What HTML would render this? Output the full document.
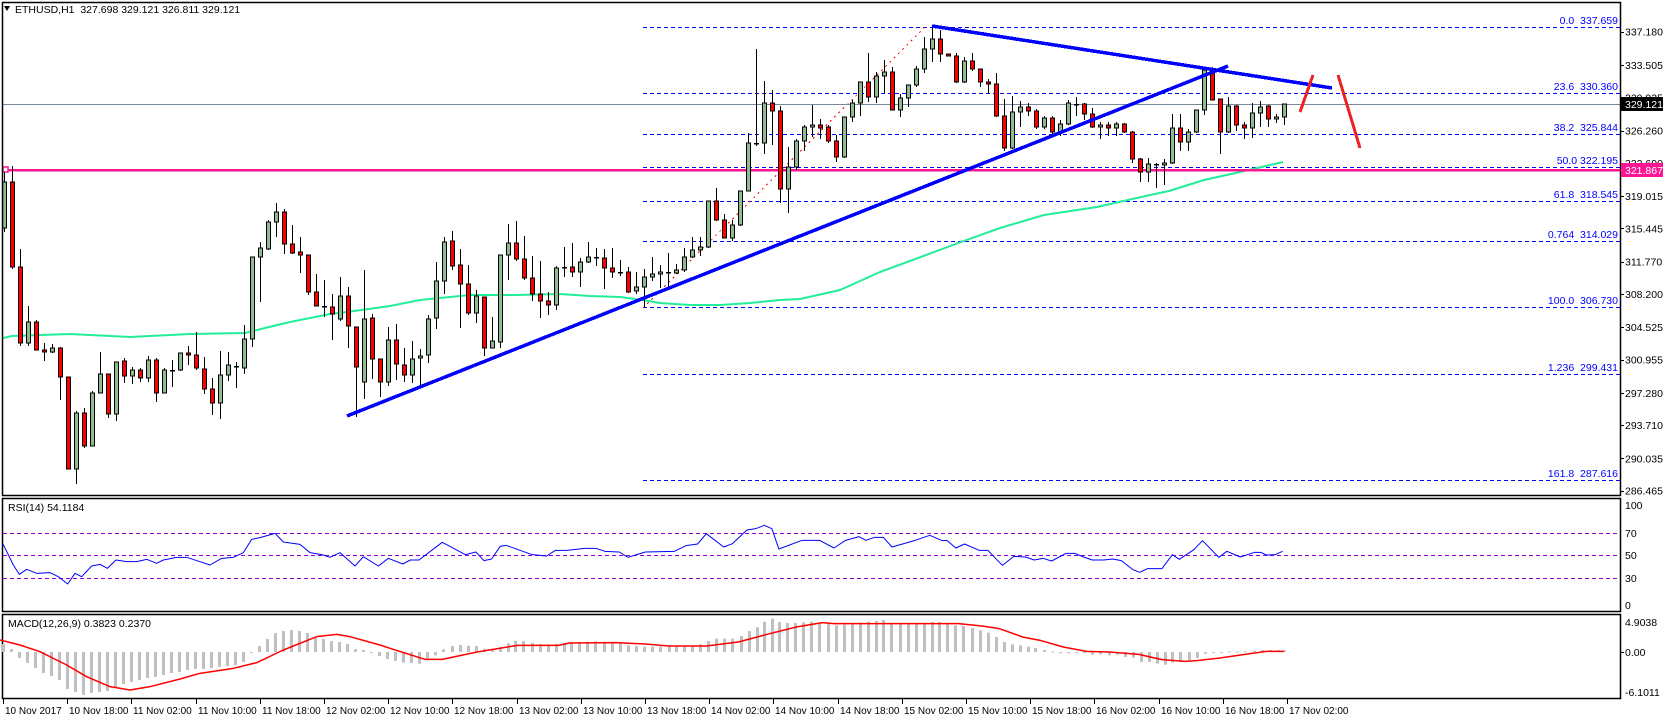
<!DOCTYPE html>
<html><head><meta charset="utf-8">
<style>
html,body{margin:0;padding:0;background:#fff;}
svg{display:block;font-family:"Liberation Sans",sans-serif;}
</style></head>
<body>
<svg id="s" width="1663" height="720" xmlns="http://www.w3.org/2000/svg"></svg>
<script>
var S=document.getElementById('s');var out=[];
function L(x1,y1,x2,y2,c,w,d){out.push('<line x1="'+x1+'" y1="'+y1+'" x2="'+x2+'" y2="'+y2+'" stroke="'+c+'" stroke-width="'+(w||1)+'"'+(d?' stroke-dasharray="'+d+'"':'')+' shape-rendering="crispEdges"/>');}
function T(x,y,t,c,a,sz){out.push('<text x="'+x+'" y="'+y+'" fill="'+(c||'#000')+'" font-size="'+(sz||10.5)+'"'+(a?' text-anchor="'+a+'"':'')+'>'+t+'</text>');}
function P(pts,c,w){out.push('<polyline points="'+pts.map(function(p){return p[0]+','+p[1]}).join(' ')+'" fill="none" stroke="'+c+'" stroke-width="'+w+'" stroke-linejoin="round"/>');}
var R=1620;
var fib=[[27,'0.0  337.659'],[93,'23.6  330.360'],[134,'38.2  325.844'],[167,'50.0 322.195'],[201,'61.8  318.545'],[241,'0.764  314.029'],[307,'100.0  306.730'],[374,'1.236  299.431'],[480,'161.8  287.616']];
fib.forEach(function(f){L(643,f[0]+.5,R,f[0]+.5,'#0000ff',1,'4,3');T(1618,f[0]-3,f[1].replace(/ /g,'&#160;'),'#0000ff','end',10.5);});
L(643,308,925,27,'#ff0000',1,'2,4');
P([[3,338],[12,336],[70,334],[130,337],[190,334],[245,333],[265,328],[290,322],[330,314],[347,312],[390,306],[420,300],[450,297],[470,295],[515,295],[560,294],[590,296],[620,297],[643,300],[660,303],[690,305],[720,305],[750,303],[780,300],[800,299],[840,290],[880,272],[918,258],[961,242],[1000,228],[1044,215],[1097,207],[1150,195],[1169,191],[1204,180],[1240,172],[1283,162]],'#22ee99',2);
L(2,104.5,R,104.5,'#778899',1);
L(2,170,R,170,'#ff1493',2.5);
out.push('<rect x="3" y="167" width="5" height="5" fill="#fff" stroke="#ff1493" stroke-width="1.5"/>');
var C=[[228,182,172,232],[182,267,166,269],[267,343,249,346],[343,322,306,346],[322,350,320,350],[350,352,343,361],[352,348,344,353],[348,377,347,400],[377,469,377,469],[469,413,411,484],[413,446,408,448],[446,393,391,446],[393,374,352,393],[374,414,374,418],[414,362,362,421],[361,376,358,383],[376,370,367,384],[370,378,368,382],[378,360,356,382],[360,393,358,402],[393,370,368,393],[370,370,360,387],[370,353,353,371],[353,355,346,365],[355,368,332,370],[369,389,357,394],[389,403,378,415],[403,375,351,419],[375,365,352,381],[366,366,362,388],[368,339,325,374],[339,257,257,347],[257,248,242,302],[249,222,220,250],[222,212,203,237],[212,244,209,254],[244,253,225,254],[252,255,237,273],[255,292,255,295],[292,306,274,306],[306,306,280,317],[307,314,294,340],[319,296,277,321],[296,326,287,348],[327,367,327,417],[382,319,270,399],[318,359,314,379],[359,382,359,397],[382,340,327,386],[340,364,324,380],[365,375,348,382],[375,359,341,383],[358,356,349,386],[355,319,315,363],[318,281,262,329],[281,242,237,294],[241,266,231,270],[265,284,249,328],[284,313,265,315],[313,296,290,323],[297,348,297,356],[348,341,317,348],[342,255,255,348],[255,243,224,280],[243,259,221,261],[259,278,236,280],[278,294,256,301],[294,301,261,318],[301,305,292,315],[305,268,266,310],[267,267,247,277],[267,272,243,277],[272,262,258,287],[262,257,242,263],[257,257,248,266],[258,268,249,289],[268,272,248,278],[272,272,260,276],[272,292,267,293],[291,287,272,294],[287,277,269,307],[277,274,257,281],[274,272,265,288],[272,272,253,288],[273,270,264,274],[270,257,248,272],[257,250,237,258],[250,247,237,256],[247,201,201,248],[201,220,188,221],[220,238,214,238],[238,225,220,241],[225,191,191,226],[191,143,133,191],[143,143,49,146],[143,103,81,154],[103,111,90,145],[111,189,106,203],[189,167,147,213],[167,141,139,170],[141,127,125,151],[127,125,105,137],[125,128,119,139],[127,141,125,143],[141,157,135,162],[157,117,117,158],[117,103,100,122],[103,82,82,116],[82,97,53,102],[97,76,72,103],[76,72,60,93],[72,110,67,110],[110,98,94,117],[98,85,85,107],[85,69,66,87],[69,49,37,73],[49,39,26,62],[39,54,30,62],[54,56,54,56],[56,82,53,83],[82,61,57,83],[61,69,53,71],[69,82,69,87],[82,84,79,94],[84,116,73,117],[116,148,99,151],[148,112,96,149],[112,107,101,127],[107,111,103,116],[111,127,109,129],[127,118,116,129],[118,132,116,134],[132,124,120,136],[124,103,100,125],[104,104,97,116],[104,114,103,120],[114,127,108,128],[127,125,122,139],[125,128,122,136],[128,124,122,136],[124,132,123,133],[132,159,131,163],[159,172,158,182],[172,164,158,182],[164,164,163,188],[165,163,159,185],[163,128,114,164],[128,142,114,151],[142,132,129,151],[132,110,110,133],[110,70,68,115],[70,100,67,100],[99,132,99,154],[132,106,97,133],[106,125,105,131],[125,128,122,139],[128,113,103,138],[113,107,101,127],[106,119,105,127],[119,117,114,123],[117,104,104,125]];
C.forEach(function(c,i){var x=4+8*i;L(x+.5,c[2],x+.5,c[3],'#000',1);
 var t=Math.min(c[0],c[1]),b=Math.max(c[0],c[1]);
 if(b-t<1.5){L(x-2,t+.5,x+3,t+.5,'#000',1.5);}
 else out.push('<rect x="'+(x-1.5)+'" y="'+t+'" width="4" height="'+(b-t)+'" fill="'+(c[1]<c[0]?'#8fbc8f':'#ff0000')+'" stroke="#000" stroke-width="1"/>');});
L(347,416,1228,66,'#0000ff',3.5);
L(932,26,1332,88,'#0000ff',3.5);
L(1300,112,1313,75,'#ee2222',3);
L(1338,75,1360,148,'#ee2222',3);
out.push('<polygon points="4,6 10,6 7,11" fill="#000"/>');
T(15,13,'ETHUSD,H1&#160;&#160;327.698 329.121 326.811 329.121','#000',null,10.5);
out.push('<rect x="2.5" y="2.5" width="'+(R-2)+'" height="493" fill="none" stroke="#000" stroke-width="1.5"/>');
out.push('<rect x="2.5" y="498.5" width="'+(R-2)+'" height="113" fill="none" stroke="#000" stroke-width="1.5"/>');
out.push('<rect x="2.5" y="614.5" width="'+(R-2)+'" height="84" fill="none" stroke="#000" stroke-width="1.5"/>');
[[337.180,31.7],[333.505,65],[329.935,97.3],[326.260,130.5],[322.690,162.8],[319.015,196],[315.445,228.4],[311.770,261.6],[308.200,293.9],[304.525,327.2],[300.955,359.5],[297.280,392.8],[293.710,425.1],[290.035,458.4],[286.465,490.7]].forEach(function(p){L(R,Math.round(p[1])+.5,R+4,Math.round(p[1])+.5,'#000',1);T(1625,p[1]+4,p[0].toFixed(3));});
out.push('<rect x="1621" y="97" width="42" height="14" fill="#000"/>');T(1625,108,'329.121','#fff');
out.push('<rect x="1621" y="163" width="42" height="14" fill="#ff1493"/>');T(1625,174,'321.867','#fff');
[[533,70],[555,50],[578,30]].forEach(function(r){L(3,r[0]+.5,R,r[0]+.5,'#9400d3',1,'4,3');T(1625,r[0]+4,r[1]);});
T(1625,509,'100');T(1625,609,'0');
T(8,511,'RSI(14) 54.1184');
var r1=[[8,190],[40,255],[58,283],[80,268],[110,280],[150,278],[175,290],[203,312],[225,280],[245,290],[275,258],[300,253],[322,265],[348,240],[380,245],[410,245],[440,238],[470,250],[490,240],[530,232],[560,232],[600,245],[630,255],[665,235],[700,232],[730,218],[755,178],[780,173],[825,160],[850,186],[900,193],[930,218],[970,225],[990,232],[1020,218],[1065,258],[1090,230],[1135,258],[1165,235]].map(function(p){return [p[0]/3,480+p[1]/3]});
var r2=[[22,198],[35,186],[50,186],[90,133],[130,170],[148,162],[162,188],[175,183],[190,145],[200,142],[245,170],[270,174],[285,157],[305,157],[335,151],[355,151],[370,160],[395,162],[410,178],[440,162],[490,160],[510,143],[530,138],[545,107],[575,147],[590,137],[615,96],[630,92],[645,82],[658,92],[670,153],[710,127],[740,127],[765,150],[785,127],[808,116],[820,127],[835,118],[850,118],[865,147],[905,127],[930,112],[950,127],[960,128],[975,150],[990,138],[1015,157],[1030,157],[1055,202],[1075,175],[1095,177],[1110,186],[1125,181],[1140,189],[1165,166],[1180,166],[1195,177],[1210,186],[1230,186],[1245,183],[1260,188],[1280,215],[1292,223],[1305,212],[1330,212],[1348,170],[1360,184],[1385,155],[1400,128],[1428,178],[1442,160],[1465,177],[1490,163],[1500,163],[1510,171],[1525,170],[1538,160]].map(function(p){return [390+p[0]/1.723,498+p[1]/3]});
P(r1.concat(r2),'#0000ff',1);
T(8,627,'MACD(12,26,9) 0.3823 0.2370');
T(1625,626,'4.9038');T(1625,656,'0.00');T(1625,696,'-6.1011');
L(R,652.5,R+4,652.5,'#000',1);
var h1=[644,649,658,663,668,673,676,680,689,692,695,693,692,691,687,684,682,680,678,677,675,673,672,670,669,669,668,667,666,665,662,653,646,639,633,631,630,631,633,638,639,641,642,644,649,650,652,656,659,661];
var h2=[[10,148],[22,152],[36,153],[50,155],[64,140],[78,130],[92,112],[106,102],[120,99],[134,101],[148,102],[162,110],[176,113],[190,105],[204,94],[216,87],[230,87],[244,93],[258,96],[272,97],[286,95],[300,92],[312,90],[326,90],[340,89],[354,88],[368,89],[382,90],[396,93],[410,100],[424,102],[438,104],[452,104],[466,104],[480,104],[492,104],[506,104],[520,104],[534,97],[548,87],[562,80],[576,80],[590,80],[604,72],[618,57],[632,46],[644,29],[658,20],[670,30],[684,33],[698,33],[712,31],[726,29],[740,33],[754,34],[768,40],[782,38],[796,37],[810,32],[824,29],[838,27],[850,24],[864,35],[878,35],[892,35],[906,36],[920,35],[934,30],[946,30],[960,36],[974,40],[988,42],[1002,48],[1016,55],[1030,62],[1044,75],[1058,90],[1072,97],[1086,100],[1100,104],[1112,108],[1126,114],[1140,118],[1154,124],[1168,124],[1182,122],[1196,122],[1210,128],[1224,127],[1238,130],[1252,128],[1266,135],[1280,137],[1294,150],[1308,150],[1322,155],[1336,158],[1348,152],[1362,150],[1376,145],[1390,138],[1404,125],[1418,122],[1432,122],[1446,118],[1460,118],[1474,118],[1488,116],[1502,114],[1516,114],[1530,114],[1540,114]];
var hist=[];h1.forEach(function(y,i){hist.push([3+8*i,y]);});
h2.forEach(function(p){var x=390+p[0]/1.723;if(x>400)hist.push([x,612+p[1]/3]);});
hist.forEach(function(p){var x=Math.round(p[0]);var y=p[1];var t=Math.min(y,652),b=Math.max(y,652);if(b-t<1)b=t+1;out.push('<rect x="'+(x-1)+'" y="'+t+'" width="3" height="'+(b-t)+'" fill="#c0c0c0"/>');});
var s1=[[0,480],[60,495],[120,515],[200,555],[260,590],[330,620],[390,630],[450,620],[540,597],[600,580],[700,565],[770,548],[850,510],[950,470],[1010,463],[1050,470],[1140,495],[1170,505]].map(function(p){return [p[0]/3,480+p[1]/3]});
var s2=[[60,142],[90,142],[150,120],[220,100],[290,100],[310,93],[390,92],[440,96],[480,102],[545,102],[600,90],[650,67],[700,45],[745,32],[765,35],[980,35],[1020,42],[1050,50],[1090,75],[1120,85],[1160,105],[1200,118],[1240,120],[1290,127],[1330,143],[1370,148],[1390,146],[1430,138],[1470,128],[1510,118],[1540,118]].map(function(p){return [390+p[0]/1.723,612+p[1]/3]});
P(s1.concat(s2),'#ff0000',1.5);
var lab=['10 Nov 2017','10 Nov 18:00','11 Nov 02:00','11 Nov 10:00','11 Nov 18:00','12 Nov 02:00','12 Nov 10:00','12 Nov 18:00','13 Nov 02:00','13 Nov 10:00','13 Nov 18:00','14 Nov 02:00','14 Nov 10:00','14 Nov 18:00','15 Nov 02:00','15 Nov 10:00','15 Nov 18:00','16 Nov 02:00','16 Nov 10:00','16 Nov 18:00','17 Nov 02:00'];
lab.forEach(function(t,i){var x=Math.round(3+64.2*i);L(x+.5,699,x+.5,704,'#000',1);T(x+2,714,t,'#000',null,10);});
S.innerHTML=out.join('');
</script>
</body></html>
